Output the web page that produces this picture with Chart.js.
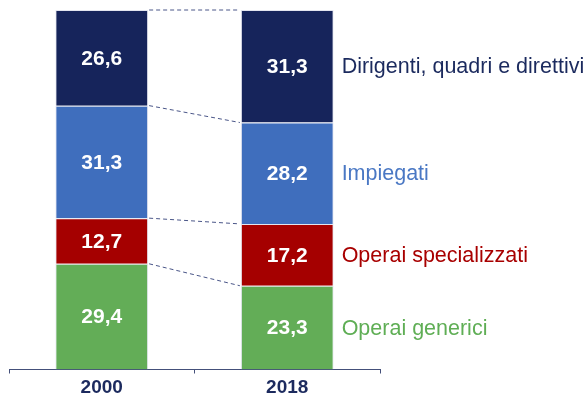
<!DOCTYPE html>
<html lang="it">
<head>
<meta charset="UTF-8">
<title>Composizione occupati 2000-2018</title>
<script src="https://cdn.jsdelivr.net/npm/chart.js"></script>
<style>
  html, body { margin: 0; padding: 0; background: #ffffff; }
</style>
</head>
<body>
<canvas id="chart" width="586" height="395"></canvas>
<script>
// anni e quote percentuali, dal basso verso l'alto
const years = ['2000', '2018'];
const seriesNames = ['Operai generici', 'Operai specializzati', 'Impiegati', 'Dirigenti, quadri e direttivi'];
const generici = [29.4, 23.3];
const specializzati = [12.7, 17.2];
const impiegati = [31.3, 28.2];
const dirigenti = [26.6, 31.3];

const fillColors = ['#63ad57', '#a50000', '#3f6ebd', '#16245b'];
const textColors = ['#5fae55', '#a80000', '#4a78c4', '#1b2a5e'];
const navy = '#1c2a5e';

const fmt = v => v.toFixed(1).replace('.', ',');

// valori dentro le barre, linee tratteggiate tra i segmenti, etichette a destra
const annotate = {
  id: 'annotate',
  afterDatasetsDraw(chart) {
    const ctx = chart.ctx;
    ctx.save();
    chart.data.datasets.forEach((ds, i) => {
      const meta = chart.getDatasetMeta(i);
      const a = meta.data[0], b = meta.data[1];

      // connettore tratteggiato dal bordo superiore del 2000 a quello del 2018
      ctx.setLineDash([4, 3]);
      ctx.strokeStyle = '#4a5688';
      ctx.lineWidth = 1;
      ctx.beginPath();
      ctx.moveTo(a.x + a.width / 2 + 1, a.y);
      ctx.lineTo(b.x - b.width / 2 - 1, b.y);
      ctx.stroke();
      ctx.setLineDash([]);

      // valori
      ctx.fillStyle = '#ffffff';
      ctx.font = 'bold 21px "Liberation Sans", Arial, sans-serif';
      ctx.textAlign = 'center';
      ctx.textBaseline = 'middle';
      meta.data.forEach((el, j) => {
        ctx.fillText(fmt(ds.data[j]), el.x, (el.y + el.base) / 2 + 1);
      });

      // nome della serie accanto alla barra del 2018
      ctx.fillStyle = textColors[i];
      ctx.font = '21.5px "Liberation Sans", Arial, sans-serif';
      ctx.textAlign = 'left';
      ctx.fillText(ds.label, b.x + b.width / 2 + 8, (b.y + b.base) / 2 + 1);
    });

    // anni sotto l'asse
    const xs = chart.scales.x;
    ctx.fillStyle = navy;
    ctx.font = 'bold 19px "Liberation Sans Narrow", "Liberation Sans", Arial, sans-serif';
    ctx.textAlign = 'center';
    ctx.textBaseline = 'middle';
    years.forEach((y, j) => {
      ctx.fillText(y, xs.getPixelForValue(j), xs.bottom + 14);
    });
    ctx.restore();
  }
};

const values = [generici, specializzati, impiegati, dirigenti];

new Chart(document.getElementById('chart'), {
  type: 'bar',
  data: {
    labels: years,
    datasets: seriesNames.map((name, i) => ({
      label: name,
      data: values[i],
      backgroundColor: fillColors[i],
      borderColor: 'rgba(215,218,232,0.7)',
      borderWidth: 1,
      borderSkipped: 'bottom',
      categoryPercentage: 1,
      barPercentage: 0.5
    }))
  },
  options: {
    responsive: false,
    animation: false,
    devicePixelRatio: 1,
    layout: { padding: { top: 10, left: 9, right: 206, bottom: 21.5 } },
    plugins: {
      legend: { display: false },
      tooltip: { enabled: false }
    },
    scales: {
      x: {
        stacked: true,
        grid: {
          offset: true,
          drawOnChartArea: false,
          drawTicks: true,
          tickLength: 4,
          color: '#44507a'
        },
        border: { display: true, color: '#44507a', width: 1 },
        ticks: { display: false }
      },
      y: {
        stacked: true,
        display: false,
        min: 0,
        max: 100
      }
    }
  },
  plugins: [annotate]
});
</script>
</body>
</html>
